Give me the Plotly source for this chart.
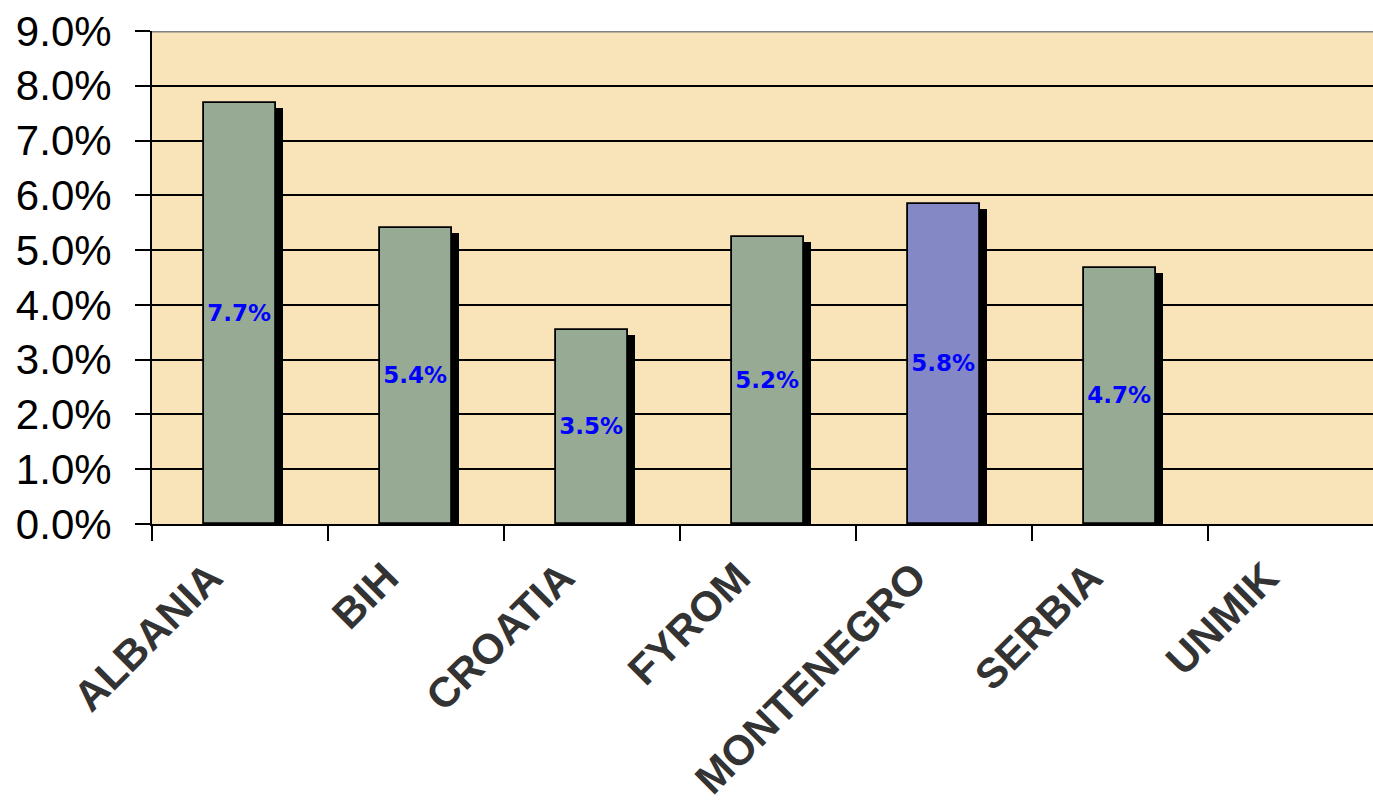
import plotly.graph_objects as go

categories = ["ALBANIA", "BIH", "CROATIA", "FYROM", "MONTENEGRO", "SERBIA", "UNMIK"]
values = [7.69, 5.40, 3.55, 5.24, 5.84, 4.68, None]
bar_colors = ["#97AA93", "#97AA93", "#97AA93", "#97AA93", "#8489C6", "#97AA93", "#97AA93"]
y_ticks = [0, 1, 2, 3, 4, 5, 6, 7, 8, 9]
y_tick_text = ["0.0%", "1.0%", "2.0%", "3.0%", "4.0%", "5.0%", "6.0%", "7.0%", "8.0%", "9.0%"]

W, H = 1373, 809
ML, MR, MT, MB = 152, 0, 31, 285
cat_px = 176.0
bar_w = 0.41
shadow_dx = 7 / cat_px
shadow_dy = 5 / 54.75

shadow_vals = [None if v is None else v - shadow_dy for v in values]

fig = go.Figure()
fig.add_trace(go.Bar(
    x=categories, y=shadow_vals, width=bar_w, offset=-bar_w / 2 + shadow_dx,
    marker=dict(color="black", line=dict(width=0)), hoverinfo="skip", showlegend=False,
))
fig.add_trace(go.Bar(
    x=categories, y=values, width=bar_w, offset=-bar_w / 2,
    marker=dict(color=bar_colors, line=dict(color="black", width=1.8)),
    texttemplate="%{y:.1f}%", textposition="inside", insidetextanchor="middle",
    constraintext="none",
    textfont=dict(family="DejaVu Sans", size=23, color="#0000FF", weight="bold"),
    showlegend=False,
))

fig.update_layout(
    width=W, height=H,
    margin=dict(l=ML, r=MR, t=MT, b=MB, pad=0),
    paper_bgcolor="white", plot_bgcolor="#F9E3B8",
    barmode="overlay", bargap=0,
    xaxis=dict(
        type="category", categoryorder="array", categoryarray=categories,
        range=[-0.5, -0.5 + (W - ML - MR) / cat_px],
        showline=True, linecolor="black", linewidth=2,
        ticks="outside", tickson="boundaries", ticklen=15, tickwidth=2, tickcolor="black",
        tickangle=-45, showgrid=False, ticklabelshift=-30, ticklabelstandoff=10,
        tickfont=dict(family="Liberation Sans, Arial", size=42, color="#333333", weight="bold"),
    ),
    yaxis=dict(
        range=[0, 9], tickmode="array", tickvals=y_ticks, ticktext=y_tick_text,
        showline=True, linecolor="black", linewidth=2,
        ticks="outside", ticklen=15, tickwidth=2, tickcolor="black",
        showgrid=True, gridcolor="black", gridwidth=2.2, zeroline=False,
        ticklabelstandoff=15,
        tickfont=dict(family="Liberation Sans, Arial", size=42, color="black"),
    ),
    shapes=[dict(type="line", xref="paper", yref="y", x0=0, x1=1, y0=9, y1=9,
                 line=dict(color="#808080", width=3), layer="above")],
)

fig.write_html("out.html", config={"displayModeBar": False},
               post_script="document.body.style.margin='0';document.body.style.overflow='hidden';")
